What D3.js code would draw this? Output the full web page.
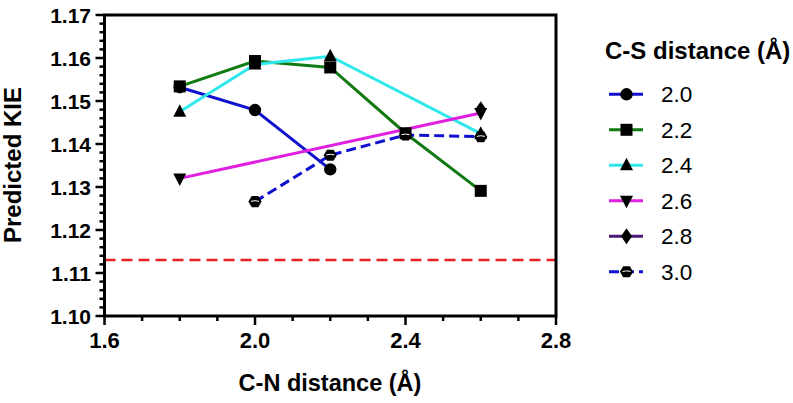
<!DOCTYPE html>
<html><head><meta charset="utf-8">
<script src="https://cdn.jsdelivr.net/npm/d3@7"></script>
<style>body{margin:0;background:#fff}svg{display:block}text{font-family:"Liberation Sans",Arial,sans-serif}</style>
</head><body><svg id="c" width="793" height="403"></svg>
<script>
const seriesNames = ["2.0","2.2","2.4","2.6","2.8","3.0"];
const seriesColors = ["#1010d0","#127a12","#30e8ec","#e020e0","#4a1a78","#1010d0"];
const seriesShapes = ["circle","square","triangle","triangleDown","diamond","hexagon"];
const s20 = [[1.8,1.1532],[2.0,1.1479],[2.2,1.1341]];
const s22 = [[1.8,1.1534],[2.0,1.1593],[2.2,1.1578],[2.4,1.1425],[2.6,1.1291]];
const s24 = [[1.8,1.1475],[2.0,1.1585],[2.2,1.1604],[2.6,1.1424]];
const s26 = [[1.8,1.1320],[2.6,1.1472]];
const s28 = [[2.6,1.1481]];
const s30 = [[2.0,1.1266],[2.2,1.1374],[2.4,1.1421],[2.6,1.1417]];
const seriesData = [s20,s22,s24,s26,s28,s30];
const refLine = 1.113;
const xTicks = [1.6,2.0,2.4,2.8];
const yTicks = [1.10,1.11,1.12,1.13,1.14,1.15,1.16,1.17];

const svg = d3.select("#c");
const x = d3.scaleLinear().domain([1.6,2.8]).range([104.5,556]);
const y = d3.scaleLinear().domain([1.10,1.17]).range([316,15]);

svg.append("line").attr("x1",x(1.6)).attr("x2",x(2.8)).attr("y1",y(refLine)).attr("y2",y(refLine))
  .attr("stroke","#e82020").attr("stroke-width",2.5).attr("stroke-dasharray","11,6");

svg.append("rect").attr("x",x(1.6)).attr("y",y(1.17)).attr("width",x(2.8)-x(1.6)).attr("height",y(1.10)-y(1.17))
  .attr("fill","none").attr("stroke","#000").attr("stroke-width",3);

const yMinor = d3.range(0,36).map(i=>1.10+i*0.002);
const xMinor = d3.range(0,13).map(i=>1.6+i*0.1);
const ax = svg.append("g");
ax.selectAll(".ym").data(yMinor).join("line").attr("x1",x(1.6)).attr("x2",(d,i)=>x(1.6)-(i%5===0?9:5))
  .attr("y1",d=>y(d)).attr("y2",d=>y(d)).attr("stroke","#000").attr("stroke-width",2.5);
ax.selectAll(".xm").data(xMinor).join("line").attr("y1",y(1.10)).attr("y2",(d,i)=>y(1.10)+(i%4===0?9:5))
  .attr("x1",d=>x(d)).attr("x2",d=>x(d)).attr("stroke","#000").attr("stroke-width",2.5);
ax.selectAll(".yl").data(yTicks).join("text").attr("x",91).attr("y",d=>y(d)).attr("dy","0.36em")
  .attr("text-anchor","end").attr("font-size",21).attr("font-weight","bold").text(d=>d3.format(".2f")(d));
ax.selectAll(".xl").data(xTicks).join("text").attr("x",d=>x(d)).attr("y",348)
  .attr("text-anchor","middle").attr("font-size",22).attr("font-weight","bold").text(d=>d3.format(".1f")(d));

svg.append("text").attr("x",330).attr("y",391).attr("text-anchor","middle").attr("font-size",23.5).attr("font-weight","bold").text("C-N distance (Å)");
svg.append("text").attr("transform","translate(21,165) rotate(-90)").attr("text-anchor","middle").attr("font-size",24).attr("font-weight","bold").text("Predicted KIE");

function marker(g, shape, cx, cy){
  const m = g.append("g").attr("transform",`translate(${cx},${cy})`);
  if(shape==="circle") m.append("circle").attr("r",6.2).attr("fill","#000");
  else if(shape==="square") m.append("rect").attr("x",-6).attr("y",-6).attr("width",12).attr("height",12).attr("fill","#000");
  else if(shape==="triangle") m.append("path").attr("d","M0,-7.5L6.5,5L-6.5,5Z").attr("fill","#000");
  else if(shape==="triangleDown") m.append("path").attr("d","M0,7.5L6.5,-5L-6.5,-5Z").attr("fill","#000");
  else if(shape==="diamond") m.append("path").attr("d","M0,-8L5.5,0L0,8L-5.5,0Z").attr("fill","#000");
  else if(shape==="hexagon"){
    const pts = d3.range(6).map(i=>{const a=i*Math.PI/3;return [6.6*Math.cos(a),6.4*Math.sin(a)];});
    m.append("path").attr("d","M"+pts.map(p=>p.join(",")).join("L")+"Z").attr("fill","#000");
    m.append("path").attr("d","M-4,-0.3Q0,-1.6 4,-0.3").attr("stroke","#fff").attr("stroke-width",1).attr("fill","none");
  }
}

const line = d3.line().x(d=>x(d[0])).y(d=>y(d[1]));
const lg = svg.append("g"), mg = svg.append("g");
seriesData.forEach((data,i)=>{
  lg.append("path").attr("d",line(data)).attr("fill","none").attr("stroke",seriesColors[i]).attr("stroke-width",3)
    .attr("stroke-dasharray", i===5?"10,5":null);
});
seriesData.forEach((data,i)=>{ data.forEach(d=>marker(mg, seriesShapes[i], x(d[0]), y(d[1]))); });

const leg = svg.append("g");
leg.append("text").attr("x",605).attr("y",59).attr("font-size",24).attr("font-weight","bold").text("C-S distance (Å)");
seriesNames.forEach((n,i)=>{
  const cy = 94.3 + i*35.5;
  leg.append("line").attr("x1",609).attr("x2",643).attr("y1",cy).attr("y2",cy).attr("stroke",seriesColors[i]).attr("stroke-width",3)
    .attr("stroke-dasharray", i===5?"10,5":null);
  marker(leg, seriesShapes[i], 626.5, cy);
  leg.append("text").attr("x",661).attr("y",cy).attr("dy","0.36em").attr("font-size",22.5).text(n);
});
</script></body></html>
